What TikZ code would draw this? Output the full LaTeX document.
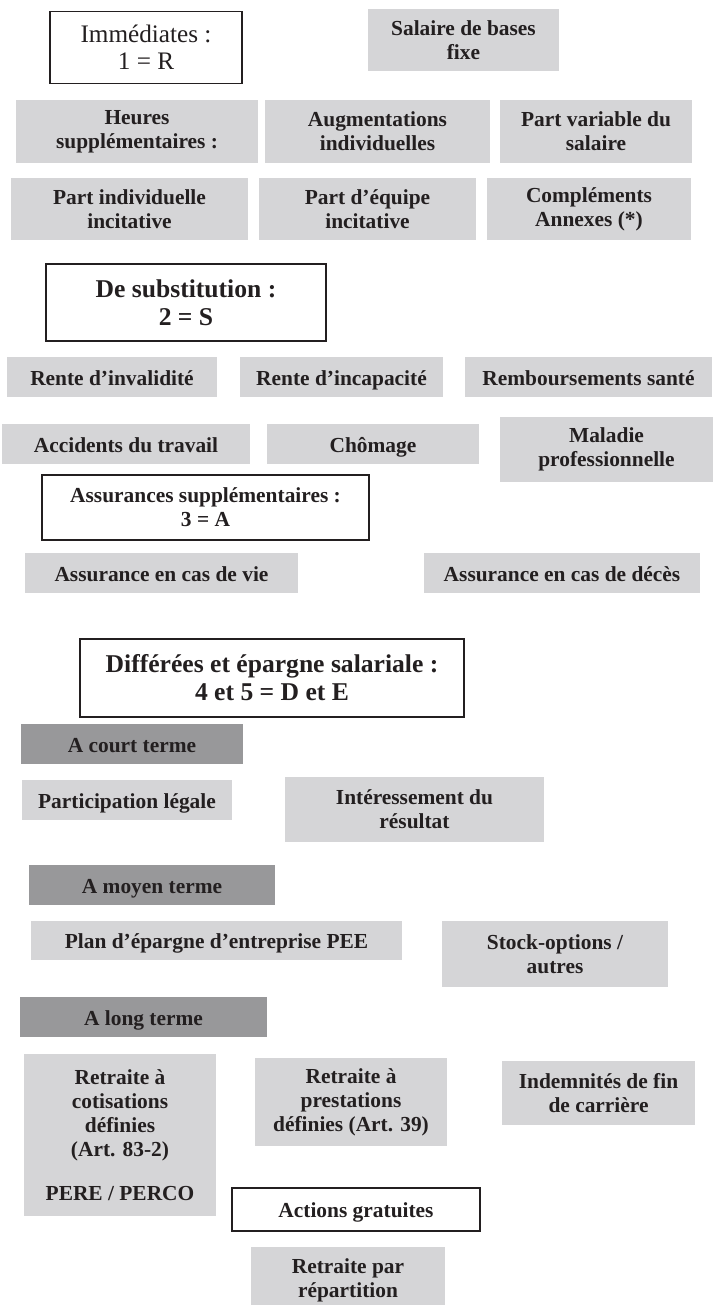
\documentclass[tikz,border=0pt]{standalone}
\usepackage{fontspec}
\setmainfont{Liberation Serif}
\definecolor{ink}{HTML}{231F20}
\definecolor{boxgray}{HTML}{D5D5D7}
\definecolor{bandgray}{HTML}{98989A}
\newcommand{\itemfont}{\bfseries\fontsize{21.4}{24}\selectfont}
\newcommand{\headfont}{\bfseries\fontsize{25.6}{28}\selectfont}
\newcommand{\firstfont}{\fontsize{25.2}{27}\selectfont}
\tikzset{
  base/.style={inner sep=0pt, align=center, text=ink, font=\itemfont},
  gbox/.style={base, fill=boxgray},
  band/.style={base, fill=bandgray},
  wbox/.style={base, fill=white, draw=ink, line width=1.3pt},
  oneline/.style={text height=20pt, text depth=4pt},
  sz/.style 2 args={minimum width=#1, minimum height=#2},
}
\begin{document}
\begin{tikzpicture}[x=1pt,y=1pt]
\useasboundingbox (0,0) rectangle (713,-1305);
\clip (0,0) rectangle (713,-1305);

% 1 = R : immediate pay
\node[wbox, sz={192}{72}, font=\firstfont] (imm) at (146,-47.5) {Immédiates :\\1 = R};
\node[gbox, sz={191}{62}] (sal) at (463.5,-40) {Salaire de bases\\fixe};
\node[gbox, sz={242}{63}] (heu) at (137,-131.5) {Heures\\supplémentaires :};
\node[gbox, sz={225}{63}] (aug) at (377.5,-131.5) {Augmentations\\individuelles};
\node[gbox, sz={192}{63}] (pvar) at (596,-131.5) {Part variable du\\salaire};
\node[gbox, sz={237}{62}] (pind) at (129.5,-209) {Part individuelle\\incitative};
\node[gbox, sz={217}{62}] (pequ) at (367.5,-209) {Part d’équipe\\incitative};
\node[gbox, sz={204}{62}] (comp) at (589,-209) {Compléments\\Annexes (*)};

% 2 = S : substitution
\node[wbox, sz={280}{77}, font=\headfont] (sub) at (186,-302.5) {De substitution :\\2 = S};
\node[gbox, oneline, sz={210}{40}] (rinv) at (112,-377) {Rente d’invalidité};
\node[gbox, oneline, sz={203}{40}] (rinc) at (341.5,-377) {Rente d’incapacité};
\node[gbox, oneline, sz={247}{40}] (remb) at (588.5,-377) {Remboursements santé};
\node[gbox, oneline, sz={248}{40}] (acc) at (126,-444) {Accidents du travail};
\node[gbox, oneline, sz={212}{40}] (cho) at (373,-444) {Chômage};
\node[gbox, sz={213}{65}] (mal) at (606.5,-449.5) {Maladie\\professionnelle};

% 3 = A : extra insurance
\node[wbox, sz={327}{65}] (ass) at (205.5,-507.5) {Assurances supplémentaires :\\3 = A};
\node[gbox, oneline, sz={273}{40}] (vie) at (161.5,-573) {Assurance en cas de vie};
\node[gbox, oneline, sz={276}{40}] (dec) at (562,-573) {Assurance en cas de décès};

% 4 et 5 = D et E : deferred pay and employee savings
\node[wbox, sz={384}{78}, font=\headfont] (dif) at (272,-678) {Différées et épargne salariale :\\4 et 5 = D et E};
\node[band, oneline, sz={222}{40}] (court) at (132,-744) {A court terme};
\node[gbox, oneline, sz={210}{40}] (part) at (127,-800) {Participation légale};
\node[gbox, sz={259}{65}] (inter) at (414.5,-809.5) {Intéressement du\\résultat};
\node[band, oneline, sz={246}{40}] (moyen) at (152,-885) {A moyen terme};
\node[gbox, oneline, sz={371}{39}] (pee) at (216.5,-940.5) {Plan d’épargne d’entreprise PEE};
\node[gbox, sz={226}{66}] (stock) at (555,-954) {Stock-options /\\autres};
\node[band, oneline, sz={247}{40}] (long) at (143.5,-1017) {A long terme};
\node[gbox, sz={192}{162}] (rcot) at (120,-1135) {Retraite à\\cotisations\\définies\\(Art. 83-2)\\[20pt]PERE / PERCO};
\node[gbox, sz={192}{88}] (rpre) at (351,-1102) {Retraite à\\prestations\\définies (Art. 39)};
\node[gbox, sz={193}{64}] (ind) at (598.5,-1093) {Indemnités de fin\\de carrière};
\node[wbox, oneline, sz={248}{43}] (act) at (356,-1209.5) {Actions gratuites};
\node[gbox, sz={194}{66}] (rrep) at (348,-1280) {Retraite par\\répartition};
\end{tikzpicture}
\end{document}
